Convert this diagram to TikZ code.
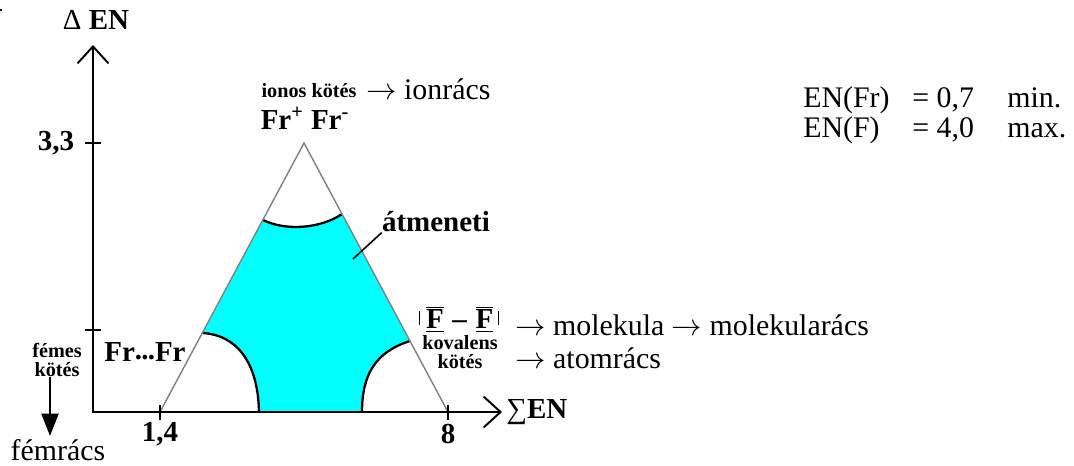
\documentclass[tikz,border=0pt]{standalone}
\usepackage{fontspec}
\setmainfont{Liberation Serif}
\usetikzlibrary{arrows.meta}
\definecolor{mixcyan}{RGB}{0,255,255}
\tikzset{
    big text/.style={inner sep=0pt,font=\fontsize{17}{19}\selectfont},
    bold label/.style={inner sep=0pt,font=\fontsize{16.5}{18}\selectfont\bfseries},
    small label/.style={inner sep=0pt,align=center,
        font=\fontsize{11.5}{10.5}\selectfont\bfseries},
    axis line/.style={line width=1.1pt},
    tick/.style={line width=0.9pt},
    border arc/.style={line width=1.3pt},
    >={Straight Barb[length=3.4mm,width=6.2mm]}
}
\newcommand{\lonepairF}{\ensuremath{\overline{\underline{\mbox{\bfseries F}}}}}
\newcommand{\sidebar}{\rule[0.12em]{0.7pt}{0.5em}}

\begin{document}
\begin{tikzpicture}[x=0.02cm,y=-0.02cm]
\useasboundingbox (0,0) rectangle (1074,466);
\fill (0,9) rectangle (2,11);

% triangle and the mixed region
\coordinate (L) at (160,412);
\coordinate (T) at (304,143);
\coordinate (R) at (448,412);
\coordinate (topl) at (263,220);
\coordinate (topr) at (342,214);
\coordinate (rgtu) at (410,341);
\coordinate (rgtb) at (362,412);
\coordinate (lftb) at (259,412);
\coordinate (lftu) at (203,333);
\fill[mixcyan] (topl) .. controls (285,231) and (320,229) .. (topr) -- (rgtu)
    .. controls (375,352) and (362,375) .. (rgtb) -- (lftb)
    .. controls (258,360) and (235,335) .. (lftu) -- cycle;
\draw[border arc] (topl) .. controls (285,231) and (320,229) .. (topr);
\draw[border arc] (rgtu) .. controls (375,352) and (362,375) .. (rgtb);
\draw[border arc] (lftb) .. controls (258,360) and (235,335) .. (lftu);
\draw[gray,line width=0.8pt] (L) -- (T) -- (R);

% axes
\coordinate (O) at (93,412);
\coordinate (ytop) at (93,45);
\coordinate (xend) at (502,412);
\draw[axis line,<->] (ytop) -- (O) -- (xend);
\foreach \yy in {143,330}
    \draw[tick] (85,\yy) -- (101,\yy);
\foreach \xx in {160,448}
    \draw[tick] (\xx,405) -- (\xx,420);
\node[bold label] (yname) at (96,20) {{\mdseries Δ} EN};
\node[bold label] (t33) at (56,143) {3,3};
\node[bold label] (t14) at (160,434) {1,4};
\node[bold label] (t8) at (448,434) {8};
\node[bold label,anchor=west] (xname) at (506,412) {{\mdseries ∑}EN};

% corners
\node[small label] (ionos) at (309,91) {ionos kötés};
\node[big text,anchor=west] (ionracs) at (366,89) {$\rightarrow$ ionrács};
\node[bold label] (frion) at (305,118) {Fr\textsuperscript{+} Fr\textsuperscript{-}};

\node[bold label] (atm) at (436,222) {átmeneti};
\coordinate (atmtip) at (353,259);
\draw[line width=0.9pt] (atm.south west) -- (atmtip);

\node[bold label] (lewis) at (459,319)
    {\sidebar\hspace{0.2em}\lonepairF\hspace{0.3em}–\hspace{0.3em}\lonepairF\hspace{0.15em}\sidebar};
\node[small label] (koval) at (460,352) {kovalens\\kötés};
\node[big text,anchor=west] (molek) at (515,325) {$\rightarrow$ molekula $\rightarrow$ molekularács};
\node[big text,anchor=west] (atomr) at (515,358) {$\rightarrow$ atomrács};

\node[bold label] (frfr) at (145,352) {Fr\raisebox{0.08em}{.\kern-0.03em.\kern-0.03em.}Fr};
\node[small label] (femes) at (57,360) {fémes\\kötés};
\coordinate (fa) at (50,377);
\coordinate (fb) at (50,436);
\draw[line width=1.5pt,-{Triangle[length=4.5mm,width=3.4mm]}] (fa) -- (fb);
\node[big text,anchor=base] (femracs) at (58,460) {fémrács};

% electronegativity range
\foreach \yy/\elem/\val/\ext [count=\k] in {108/Fr/{0,7}/min.,137/F/{4,0}/max.}{
    \node[big text,anchor=base west] (enname\k) at (803,\yy) {EN(\elem)};
    \node[big text,anchor=base west] (enval\k) at (912,\yy) {= \val};
    \node[big text,anchor=base west] (enext\k) at (1007,\yy) {\ext};
}
\end{tikzpicture}
\end{document}
